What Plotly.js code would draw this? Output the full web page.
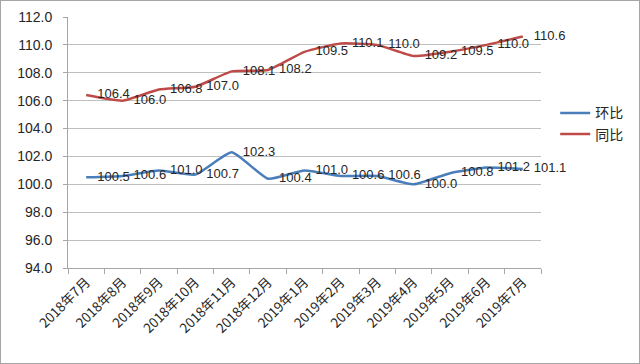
<!DOCTYPE html>
<html>
<head>
<meta charset="utf-8">
<script src="https://cdn.plot.ly/plotly-3.0.1.min.js"></script>
<style>
html,body{margin:0;padding:0;background:#fff;}
#frame{position:absolute;left:0;top:0;width:638px;height:362px;border:1px solid #a6a6a6;}
#chart{position:absolute;left:-1px;top:-1px;width:640px;height:364px;}
</style>
</head>
<body>
<div id="frame"><div id="chart"></div></div>
<script>
var months = ["2018年7月","2018年8月","2018年9月","2018年10月","2018年11月","2018年12月","2019年1月","2019年2月","2019年3月","2019年4月","2019年5月","2019年6月","2019年7月"];
var huanbi = [100.5,100.6,101.0,100.7,102.3,100.4,101.0,100.6,100.6,100.0,100.8,101.2,101.1];
var tongbi = [106.4,106.0,106.8,107.0,108.1,108.2,109.5,110.1,110.0,109.2,109.5,110.0,110.6];
var yTicks = [94,96,98,100,102,104,106,108,110,112];

var labelFont = {family:"Liberation Sans, Arial, sans-serif", size:13, color:"#262626"};
function mk(name, vals, color){
  return {
    type:"scatter", mode:"lines+markers+text", name:name, x:months, y:vals,
    text: vals.map(function(v){return v.toFixed(1);}),
    textposition:"middle right", textfont:labelFont,
    line:{color:color, width:2.5, shape:"spline", smoothing:0.45},
    marker:{size:16, color:"rgba(0,0,0,0)"},
    cliponaxis:false, hoverinfo:"skip"
  };
}
var data = [mk("环比", huanbi, "#4a7ebb"), mk("同比", tongbi, "#be4b48")];
var layout = {
  width:640, height:364,
  margin:{l:68, r:99, t:17, b:96},
  paper_bgcolor:"rgba(0,0,0,0)", plot_bgcolor:"#fff",
  showlegend:true,
  legend:{x:1.03, y:0.68, xanchor:"left", yanchor:"top",
    font:{family:"Noto Sans CJK SC, sans-serif", size:14, color:"#262626"},
    itemwidth:30, tracegroupgap:4, bgcolor:"rgba(0,0,0,0)"},
  xaxis:{type:"category", tickangle:-45, tickson:"boundaries",
    ticks:"outside", ticklen:5, tickcolor:"#a6a6a6",
    showline:true, linecolor:"#a6a6a6", linewidth:1, showgrid:false,
    tickfont:{family:"Noto Sans CJK SC, sans-serif", size:13.5, color:"#262626"},
    range:[-0.5,12.5], fixedrange:true},
  yaxis:{range:[94,112], tickvals:yTicks, ticktext:yTicks.map(function(v){return v.toFixed(1);}),
    showgrid:true, gridcolor:"#bfbfbf", gridwidth:1,
    showline:true, linecolor:"#a6a6a6", linewidth:1,
    ticks:"outside", ticklen:4, tickcolor:"#a6a6a6", zeroline:false,
    ticklabelstandoff:8,
    tickfont:{family:"Liberation Sans, Arial, sans-serif", size:14, color:"#262626"},
    fixedrange:true}
};
Plotly.newPlot("chart", data, layout, {staticPlot:true, displayModeBar:false});
</script>
</body>
</html>
